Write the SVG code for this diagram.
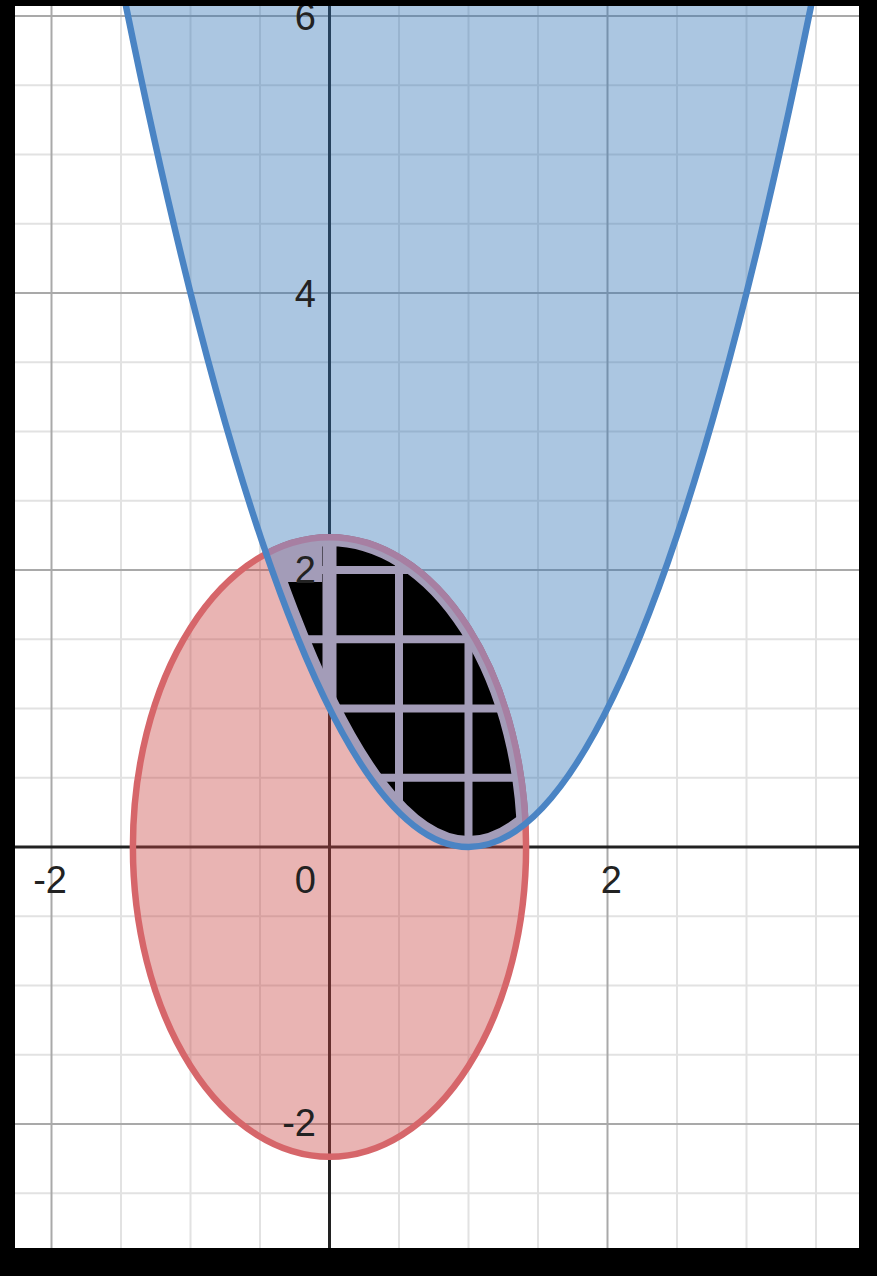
<svg xmlns="http://www.w3.org/2000/svg" width="877" height="1276" viewBox="0 0 877 1276">
<style>
.minor{stroke:#e2e2e2;stroke-width:2;fill:none}
.major{stroke:#a9a9a9;stroke-width:2;fill:none}
.axis{stroke:#222;stroke-width:3;fill:none}
.lav{stroke:#a39cb8;fill:none}
.lbl{font-family:"Liberation Sans",Arial,sans-serif;font-size:38px;fill:#222;text-anchor:end}
</style>
<defs>
<clipPath id="plot"><rect x="15" y="6" width="844" height="1242"/></clipPath>
<clipPath id="ell"><ellipse cx="329.5" cy="847" rx="196.6" ry="309.7"/></clipPath>
<clipPath id="par"><path d="M107.1,-89.26 Q468.5,1783.26 829.9,-89.26 Z"/></clipPath>
</defs>
<rect x="0" y="0" width="877" height="1276" fill="#000"/>
<rect x="15" y="6" width="844" height="1242" fill="#fff"/>
<g id="plotarea" clip-path="url(#plot)">
<g id="grid">
<path class="minor" d="M121,0V1276M190.5,0V1276M260,0V1276M399,0V1276M468.5,0V1276M538,0V1276M677,0V1276M746.5,0V1276M816,0V1276"/>
<path class="minor" d="M0,85.25H877M0,154.5H877M0,223.75H877M0,362.25H877M0,431.5H877M0,500.75H877M0,639.25H877M0,708.5H877M0,777.75H877M0,916.25H877M0,985.5H877M0,1054.75H877M0,1193.25H877"/>
<path class="major" d="M51.5,0V1276M607.5,0V1276M0,16H877M0,293H877M0,570H877M0,1124H877"/>
<path class="axis" d="M329.5,0V1276M0,847H877"/>
</g>
<g id="ellipse-region">
<ellipse cx="329.5" cy="847" rx="196.6" ry="309.7" fill="#c74440" fill-opacity="0.4"/>
<ellipse cx="329.5" cy="847" rx="196.6" ry="309.7" fill="none" stroke="#d6666a" stroke-width="6.5"/>
</g>
<g id="parabola-region">
<path d="M107.1,-89.26 Q468.5,1783.26 829.9,-89.26 Z" fill="#2d70b3" fill-opacity="0.4"/>
</g>
<g id="intersection">
<g clip-path="url(#ell)">
<g clip-path="url(#par)">
<rect x="200" y="500" width="360" height="360" fill="#000"/>
<ellipse class="lav" cx="329.5" cy="847" rx="196.6" ry="309.7" stroke-width="18"/>
<path class="lav" d="M107.1,-89.26 Q468.5,1783.26 829.9,-89.26" stroke-width="22"/>
<rect x="270" y="536" width="52" height="46" fill="#a39cb8"/>
<path class="lav" stroke-width="14" d="M329.5,500V860"/>
<path class="lav" stroke-width="8" d="M399,500V860M468.5,500V860M200,570H560M200,639.25H560M200,708.5H560M200,777.75H560"/>
</g>
</g>
<g clip-path="url(#par)">
<ellipse cx="329.5" cy="847" rx="196.6" ry="309.7" fill="none" stroke="#a77fa2" stroke-width="6.5"/>
</g>
</g>
<g id="parabola-curve">
<path d="M107.1,-89.26 Q468.5,1783.26 829.9,-89.26" fill="none" stroke="#4a84c4" stroke-width="6.5"/>
</g>
<g id="labels">
<text class="lbl" x="316" y="30">6</text>
<text class="lbl" x="316" y="307">4</text>
<text class="lbl" x="316" y="583">2</text>
<text class="lbl" x="316" y="1136">-2</text>
<text class="lbl" x="67" y="893">-2</text>
<text class="lbl" x="316" y="893">0</text>
<text class="lbl" x="622" y="893">2</text>
</g>
</g>
</svg>
